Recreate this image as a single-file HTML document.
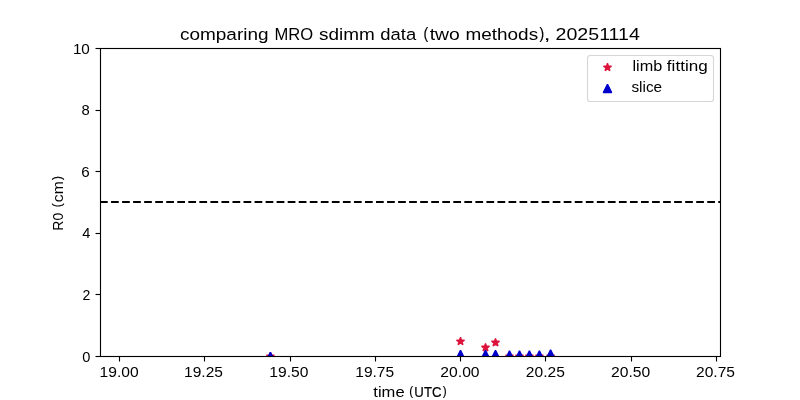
<!DOCTYPE html>
<html lang="en">
<head>
<meta charset="utf-8">
<title>comparing MRO sdimm data (two methods), 20251114</title>
<style>
html,body{margin:0;padding:0;background:#ffffff;}
body{width:800px;height:400px;overflow:hidden;position:relative;font-family:"Liberation Sans",sans-serif;color:#000000;}
svg{position:absolute;left:0;top:0;display:block;}
#labels{position:absolute;left:0;top:0;width:800px;height:400px;will-change:transform;}
.l{position:absolute;left:0;top:0;white-space:nowrap;line-height:1;margin:0;padding:0;}
.s{font-size:14px;transform-origin:0 12px;}
.t{font-size:17px;transform-origin:0 14px;}
.b{-webkit-text-stroke:0.2px #000000;}
</style>
</head>
<body>
<svg width="800" height="400" viewBox="0 0 800 400">
<defs><clipPath id="ax"><rect x="100" y="48" width="620" height="308"/></clipPath></defs>
<g clip-path="url(#ax)">
<g fill="#dc143c" stroke="#dc143c" stroke-width="1.389" stroke-linejoin="bevel">
<polygon points="270.40,352.23 271.34,355.11 274.36,355.11 271.91,356.89 272.85,359.77 270.40,357.99 267.95,359.77 268.89,356.89 266.44,355.11 269.46,355.11"/>
<polygon points="460.50,337.23 461.44,340.11 464.46,340.11 462.01,341.89 462.95,344.77 460.50,342.99 458.05,344.77 458.99,341.89 456.54,340.11 459.56,340.11"/>
<polygon points="485.50,343.43 486.44,346.31 489.46,346.31 487.01,348.09 487.95,350.97 485.50,349.19 483.05,350.97 483.99,348.09 481.54,346.31 484.56,346.31"/>
<polygon points="495.50,338.43 496.44,341.31 499.46,341.31 497.01,343.09 497.95,345.97 495.50,344.19 493.05,345.97 493.99,343.09 491.54,341.31 494.56,341.31"/>
<polygon points="509.50,352.23 510.44,355.11 513.46,355.11 511.01,356.89 511.95,359.77 509.50,357.99 507.05,359.77 507.99,356.89 505.54,355.11 508.56,355.11"/>
<polygon points="519.50,352.23 520.44,355.11 523.46,355.11 521.01,356.89 521.95,359.77 519.50,357.99 517.05,359.77 517.99,356.89 515.54,355.11 518.56,355.11"/>
<polygon points="529.40,352.23 530.34,355.11 533.36,355.11 530.91,356.89 531.85,359.77 529.40,357.99 526.95,359.77 527.89,356.89 525.44,355.11 528.46,355.11"/>
<polygon points="539.40,352.23 540.34,355.11 543.36,355.11 540.91,356.89 541.85,359.77 539.40,357.99 536.95,359.77 537.89,356.89 535.44,355.11 538.46,355.11"/>
<polygon points="550.60,352.23 551.54,355.11 554.56,355.11 552.11,356.89 553.05,359.77 550.60,357.99 548.15,359.77 549.09,356.89 546.64,355.11 549.66,355.11"/>
</g>
<g fill="#0000cd" stroke="#0000cd" stroke-width="1.389" stroke-linejoin="bevel">
<polygon points="270.40,352.23 266.23,360.57 274.57,360.57"/>
<polygon points="460.50,350.33 456.33,358.67 464.67,358.67"/>
<polygon points="485.50,350.33 481.33,358.67 489.67,358.67"/>
<polygon points="495.50,350.33 491.33,358.67 499.67,358.67"/>
<polygon points="509.50,350.83 505.33,359.17 513.67,359.17"/>
<polygon points="519.50,350.83 515.33,359.17 523.67,359.17"/>
<polygon points="529.40,350.83 525.23,359.17 533.57,359.17"/>
<polygon points="539.40,350.83 535.23,359.17 543.57,359.17"/>
<polygon points="550.60,349.83 546.43,358.17 554.77,358.17"/>
</g>
<line x1="100" y1="202" x2="720" y2="202" stroke="#000" stroke-width="2.083" stroke-dasharray="7.708 3.333"/>
</g>
<g stroke="#000" stroke-width="1.111" fill="none">
<line x1="119.5" y1="356.5" x2="119.5" y2="361.5"/>
<line x1="204.5" y1="356.5" x2="204.5" y2="361.5"/>
<line x1="290.5" y1="356.5" x2="290.5" y2="361.5"/>
<line x1="375.5" y1="356.5" x2="375.5" y2="361.5"/>
<line x1="460.5" y1="356.5" x2="460.5" y2="361.5"/>
<line x1="545.5" y1="356.5" x2="545.5" y2="361.5"/>
<line x1="631.5" y1="356.5" x2="631.5" y2="361.5"/>
<line x1="716.5" y1="356.5" x2="716.5" y2="361.5"/>
<line x1="95.5" y1="48.5" x2="100.5" y2="48.5"/>
<line x1="95.5" y1="110.5" x2="100.5" y2="110.5"/>
<line x1="95.5" y1="171.5" x2="100.5" y2="171.5"/>
<line x1="95.5" y1="233.5" x2="100.5" y2="233.5"/>
<line x1="95.5" y1="294.5" x2="100.5" y2="294.5"/>
<line x1="95.5" y1="356.5" x2="100.5" y2="356.5"/>
<rect x="100.5" y="48.5" width="620" height="308"/>
</g>
<rect x="587.5" y="55.5" width="126" height="46" rx="2.78" ry="2.78" fill="#fff" fill-opacity="0.8" stroke="#cccccc" stroke-opacity="0.8" stroke-width="1.111"/>
<g fill="#dc143c" stroke="#dc143c" stroke-width="1.389" stroke-linejoin="bevel"><polygon points="607.50,63.23 608.44,66.11 611.46,66.11 609.01,67.89 609.95,70.77 607.50,68.99 605.05,70.77 605.99,67.89 603.54,66.11 606.56,66.11"/></g>
<g fill="#0000cd" stroke="#0000cd" stroke-width="1.389" stroke-linejoin="bevel"><polygon points="607.50,84.23 603.33,92.57 611.67,92.57"/></g>
</svg>
<div id="labels">
<div class="title">
<div class="l t" style="transform:translate(179.95px,25.90px) scale(1.1164,1.0059)">comparing</div>
<div class="l t" style="transform:translate(274.42px,25.90px) scale(0.9747,1.0000)">MRO</div>
<div class="l t" style="transform:translate(318.90px,25.90px) scale(1.1152,1.0059)">sdimm</div>
<div class="l t" style="transform:translate(380.33px,25.90px) scale(1.0845,1.0059)">data</div>
<div class="l t b" style="transform:translate(423.58px,24.80px) scale(0.8287,0.9412)">(</div>
<div class="l t" style="transform:translate(429.68px,25.90px) scale(1.1381,1.0059)">two</div>
<div class="l t" style="transform:translate(465.44px,25.90px) scale(1.1144,1.0059)">methods</div>
<div class="l t b" style="transform:translate(539.49px,24.80px) scale(0.8287,0.9412)">)</div>
<div class="l t" style="transform:translate(543.84px,25.90px) scale(1.4291,1.0000)">,</div>
<div class="l t" style="transform:translate(555.57px,25.90px) scale(1.1521,1.0000)">20251114</div>
</div>
<div class="xlabel">
<div class="l s" style="transform:translate(373.33px,385.00px) scale(1.1816,1.0714)">time</div>
<div class="l s b" style="transform:translate(409.21px,383.40px) scale(0.8386,0.9714)">(</div>
<div class="l s b" style="transform:translate(414.36px,385.00px) scale(0.9416,1.0321)">UTC</div>
<div class="l s b" style="transform:translate(442.74px,383.40px) scale(0.8386,0.9714)">)</div>
</div>
<div class="ylabel">
<div class="l s" style="transform:translate(63.00px,218.68px) rotate(-90deg) scale(1.0000,1.0321)">R0</div>
<div class="l s b" style="transform:translate(61.40px,195.25px) rotate(-90deg) scale(0.8386,0.9714)">(</div>
<div class="l s" style="transform:translate(63.00px,190.19px) rotate(-90deg) scale(1.1210,1.0714)">cm</div>
<div class="l s b" style="transform:translate(61.40px,168.09px) rotate(-90deg) scale(0.8386,0.9714)">)</div>
</div>
<div class="legend">
<div class="l s" style="transform:translate(632.49px,59.00px) scale(1.1598,1.0714)">limb</div>
<div class="l s" style="transform:translate(666.87px,59.00px) scale(1.2217,1.0714)">fitting</div>
<div class="l s" style="transform:translate(631.40px,80.00px) scale(1.0981,1.0714)">slice</div>
</div>
<div class="yticks">
<div class="l s" style="transform:translate(72.88px,42.00px) scale(1.0907,1.0214)">10</div>
<div class="l s" style="transform:translate(81.45px,103.00px) scale(1.0571,1.0214)">8</div>
<div class="l s" style="transform:translate(81.19px,165.00px) scale(1.0823,1.0214)">6</div>
<div class="l s" style="transform:translate(82.35px,226.00px) scale(1.0459,1.0214)">4</div>
<div class="l s" style="transform:translate(82.48px,288.00px) scale(1.0080,1.0214)">2</div>
<div class="l s" style="transform:translate(82.26px,350.00px) scale(1.0458,1.0214)">0</div>
</div>
<div class="xticks">
<div class="l s" style="transform:translate(99.54px,365.00px) scale(1.1165,1.0214)">19.00</div>
<div class="l s" style="transform:translate(184.10px,365.00px) scale(1.1091,1.0214)">19.25</div>
<div class="l s" style="transform:translate(269.37px,365.00px) scale(1.1165,1.0214)">19.50</div>
<div class="l s" style="transform:translate(355.25px,365.00px) scale(1.1091,1.0214)">19.75</div>
<div class="l s" style="transform:translate(440.34px,365.00px) scale(1.1195,1.0214)">20.00</div>
<div class="l s" style="transform:translate(525.86px,365.00px) scale(1.1123,1.0214)">20.25</div>
<div class="l s" style="transform:translate(611.07px,365.00px) scale(1.1195,1.0214)">20.50</div>
<div class="l s" style="transform:translate(695.98px,365.00px) scale(1.1123,1.0214)">20.75</div>
</div>
</div>
</body>
</html>
